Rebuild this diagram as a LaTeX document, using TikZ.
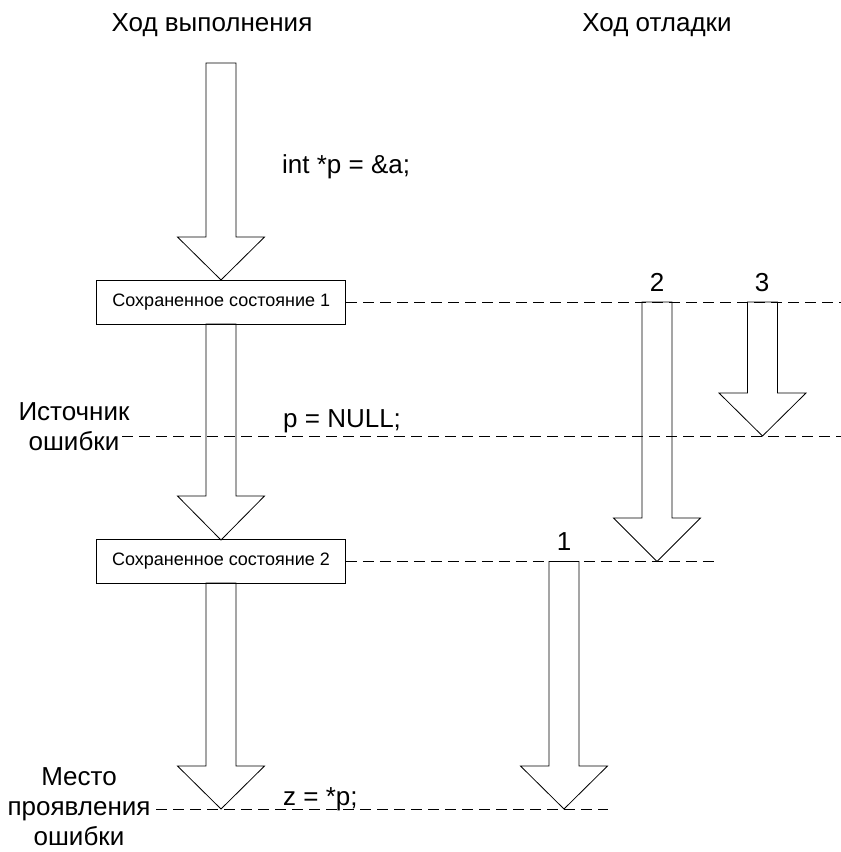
\documentclass[tikz,border=0pt]{standalone}
\usepackage{fontspec}
\setmainfont{Liberation Sans}
\newcommand\blockarrow[4]{% center x, top y, head y, tip y
  \draw[barrow] (#1-15,#2) -- (#1-15,#3) -- (#1-43.5,#3) -- (#1,#4) -- (#1+43.5,#3) -- (#1+15,#3) -- (#1+15,#2) -- cycle;}
\begin{document}
\begin{tikzpicture}[x=1pt,y=-1pt,
  barrow/.style={draw=black,line width=0.8pt,line join=miter},
  sbox/.style={draw,line width=0.8pt,minimum width=249pt,minimum height=44pt,inner sep=0pt,font=\fontsize{18}{22}\selectfont},
  big/.style={font=\fontsize{26}{30}\selectfont,inner sep=0pt},
  dline/.style={line width=0.8pt,dash pattern=on 11pt off 6pt}]
\useasboundingbox (0,0) rectangle (841,852);
\fill[white] (0,0) rectangle (841,852);
% titles
\node[big,anchor=base] (t1) at (212,31) {Ход выполнения};
\node[big,anchor=base] (t2) at (657,31) {Ход отладки};
% saved states
\node[sbox] (s1) at (221.3,302) {Сохраненное состояние 1};
\node[sbox] (s2) at (221,561.5) {Сохраненное состояние 2};
% code
\node[big,anchor=base west] (c1) at (282,173) {int *p = \&a;};
\node[big,anchor=base west] (c2) at (283,427) {p = NULL;};
\node[big,anchor=base west] (c3) at (283,805) {z = *p;};
% numbers
\node[big,anchor=base] (n2) at (657,291) {2};
\node[big,anchor=base] (n3) at (762,291) {3};
\node[big,anchor=base] (n1) at (564,550) {1};
% left labels
\node[big,align=center,anchor=north] (e1) at (74,402) {Источник\\ошибки};
\node[big,align=center,anchor=north] (e2) at (79,767) {Место\\проявления\\ошибки};
% block arrows
\blockarrow{221}{63}{237}{280}
\blockarrow{221}{324}{496}{540}
\blockarrow{221}{583}{766}{809}
\blockarrow{564}{561.5}{766}{809}
\blockarrow{657}{302}{518}{561.5}
\blockarrow{762.5}{302}{393}{436}
% dashed lines
\coordinate (d1e) at (841,302);
\coordinate (d2s) at (122,436);
\coordinate (d2e) at (841,436);
\coordinate (d3e) at (718,561.5);
\coordinate (d4s) at (156,809);
\coordinate (d4e) at (608,809);
\draw[dline] (s1.east) -- (d1e);
\draw[dline] (d2s) -- (d2e);
\draw[dline] (s2.east) -- (d3e);
\draw[dline] (d4s) -- (d4e);
\end{tikzpicture}
\end{document}
